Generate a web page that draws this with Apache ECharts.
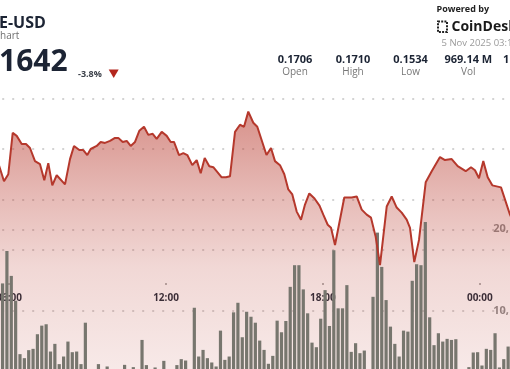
<!DOCTYPE html>
<html><head><meta charset="utf-8">
<script src="https://cdn.jsdelivr.net/npm/echarts@6/dist/echarts.min.js"></script>
<style>html,body{margin:0;padding:0;background:#fff;overflow:hidden}#c{width:510px;height:369px}</style>
</head><body><div id="c"></div>
<script>
// ---- data (hours of day; 24 = 00:00 next day) ----
const priceTimes = [5.576,5.805,5.969,6.138,6.291,6.482,6.646,6.799,6.990,7.182,
7.346,7.499,7.652,7.820,8.138,8.329,8.482,8.685,8.837,8.990,
9.120,9.350,9.503,9.667,9.859,10.050,10.176,10.344,10.497,10.650,
10.815,10.979,11.159,11.323,11.491,11.644,11.836,12.027,12.180,12.306,
12.497,12.662,12.815,13.006,13.174,13.327,13.480,13.656,13.809,14.130,
14.294,14.447,14.639,14.830,14.983,15.147,15.338,15.491,15.843,16.015,
16.168,16.359,16.524,16.677,16.830,16.998,17.163,17.315,17.480,17.679,
17.870,18.015,18.184,18.310,18.463,18.818,19.101,19.293,19.484,19.675,
19.839,20.019,20.184,20.440,20.631,20.822,21.013,21.204,21.331,21.495,
21.675,21.931,22.161,22.478,22.669,22.925,23.155,23.461,23.663,23.816,
23.969,24.134,24.302,24.478,24.811,25.155,25.346];
const prices = [0.1637,0.1618,0.1625,0.1666,0.1663,0.1655,0.1655,0.1651,0.1638,0.1635,
0.1619,0.1636,0.1614,0.1624,0.1615,0.1640,0.1653,0.1649,0.1649,0.1644,
0.1650,0.1653,0.1657,0.1656,0.1658,0.1661,0.1661,0.1657,0.1658,0.1653,
0.1657,0.1668,0.1672,0.1664,0.1665,0.1660,0.1667,0.1663,0.1657,0.1657,
0.1644,0.1646,0.1644,0.1634,0.1639,0.1626,0.1641,0.1633,0.1632,0.1622,
0.1622,0.1623,0.1667,0.1674,0.1672,0.1687,0.1676,0.1672,0.1644,0.1651,
0.1638,0.1634,0.1625,0.1610,0.1605,0.1588,0.1580,0.1595,0.1606,0.1601,
0.1594,0.1585,0.1575,0.1572,0.1555,0.1602,0.1602,0.1603,0.1590,0.1585,
0.1582,0.1563,0.1535,0.1593,0.1603,0.1592,0.1587,0.1580,0.1572,0.1538,
0.1560,0.1617,0.1628,0.1642,0.1639,0.1640,0.1633,0.1628,0.1632,0.1629,
0.1621,0.1638,0.1622,0.1614,0.1612,0.1585,0.1575];
const volStart = '05:45';      // centre of first 10-minute bar
const volStepMinutes = 10;
const volumesM = [13.38,17.35,14.30,11.26,4.72,4.23,5.21,5.37,7.16,8.21,
8.38,5.04,5.98,3.50,4.43,6.26,4.96,5.04,3.50,8.57,
2.6,2.1,3.50,2.4,3.21,2.0,2.3,1.8,3.41,2.0,
3.13,2.2,6.46,3.38,2.0,3.09,2.4,3.90,2.2,2.5,
3.38,4.11,3.94,2.5,10.40,4.43,5.24,4.23,3.70,3.21,
7.60,4.02,4.43,9.84,11.01,6.79,9.91,9.30,8.57,6.38,
5.24,3.54,4.51,8.82,7.40,8.78,12.96,15.61,15.61,12.65,
9.72,6.13,5.57,9.06,12.56,8.17,17.44,10.33,10.33,13.17,
5.00,6.06,4.84,5.16,2.3,11.74,19.6,15.40,11.34,8.09,
5.98,4.43,7.60,7.48,13.70,15.73,15.61,20.9,9.23,5.82,
7.28,6.26,6.59,6.46,6.55,2.0,1.8,3.13,4.92,4.96,
3.33,5.37,5.24,7.28,3.09,4.11,5.65];
const titleText = 'E-USD';
const subtitleText = 'hart';
const lastPrice = '1642';
const changeText = '-3.8%';
const statValues = ['0.1706','0.1710','0.1534','969.14 M'];
const statLabels = ['Open','High','Low','Vol'];
const dateText = '5 Nov 2025 03:1';

// ---- build ----
const [vh, vm] = volStart.split(':').map(Number);
const volTimes = volumesM.map((_, i) => vh + vm / 60 + i * volStepMinutes / 60);
const priceData = priceTimes.map((t, i) => [t, prices[i]]);
const volData = volTimes.map((t, i) => [t, volumesM[i]]);

const GL = -147.8, GR = -126.7;   // grid extends beyond the cropped view
const dotted = { color: 'rgba(150,150,150,0.55)', width: 1.5, type: [2, 8] };
const hourFmt = v => String(Math.round(v) % 24).padStart(2, '0') + ':00';

const chart = echarts.init(document.getElementById('c'), null, { renderer: 'canvas' });
const statX = [295, 353, 410.5, 468.3];
const graphics = [
  { type: 'text', x: -1, y: 23.5, style: { text: titleText, fill: '#1c2434', fontSize: 16, fontWeight: 'bold', fontFamily: 'Open Sans', textVerticalAlign: 'middle' } },
  { type: 'text', x: 0, y: 36.5, style: { text: subtitleText, fill: '#707070', fontSize: 10, fontFamily: 'Open Sans', textVerticalAlign: 'middle' } },
  { type: 'text', x: -1, y: 62, style: { text: lastPrice, fill: '#1c2434', fontSize: 30, fontWeight: 'bold', fontFamily: 'Open Sans', textVerticalAlign: 'middle' } },
  { type: 'text', x: 78, y: 74, style: { text: changeText, fill: '#3a3f48', fontSize: 9, fontWeight: 'bold', fontFamily: 'Open Sans', textVerticalAlign: 'middle' } },
  { type: 'polygon', shape: { points: [[108.7, 69.5], [118.7, 69.5], [113.7, 78]] }, style: { fill: '#b3261e' } },
  { type: 'text', x: 436.5, y: 9, style: { text: 'Powered by', fill: '#222', fontSize: 9, fontWeight: 'bold', fontFamily: 'Open Sans', textVerticalAlign: 'middle' } },
  { type: 'rect', shape: { x: 438, y: 21.5, width: 9, height: 10.5 }, style: { fill: 'none', stroke: '#222', lineWidth: 2, lineDash: [2, 1.2] } },
  { type: 'text', x: 451.5, y: 27, style: { text: 'CoinDesk', fill: '#1a1a1a', fontSize: 14, fontWeight: 'bold', fontFamily: 'Open Sans', textVerticalAlign: 'middle' } },
  { type: 'text', x: 441.5, y: 43.5, style: { text: dateText, fill: '#9a9a9a', fontSize: 9.5, fontFamily: 'Open Sans', textVerticalAlign: 'middle' } },
  { type: 'text', x: 503, y: 59.5, style: { text: '1', fill: '#1c2434', fontSize: 11, fontWeight: 'bold', fontFamily: 'Open Sans', textVerticalAlign: 'middle' } }
];
statValues.forEach((v, i) => {
  graphics.push({ type: 'text', x: statX[i], y: 59.5, style: { text: v, fill: '#1c2434', fontSize: 11, fontWeight: 'bold', fontFamily: 'Open Sans', textAlign: 'center', textVerticalAlign: 'middle' } });
  graphics.push({ type: 'text', x: statX[i], y: 72, style: { text: statLabels[i], fill: '#777', fontSize: 10, fontFamily: 'Open Sans', textAlign: 'center', textVerticalAlign: 'middle' } });
});

const hiddenX = (gi) => ({ type: 'value', gridIndex: gi, min: 0, max: 30, show: false });
chart.setOption({
  animation: false,
  backgroundColor: '#ffffff',
  graphic: graphics,
  grid: [
    { left: GL, right: GR, top: 98.5, bottom: -23.7, outerBoundsMode: 'none', containLabel: false },
    { left: GL, right: GR, top: 98.5, height: 151.5, outerBoundsMode: 'none', containLabel: false },
    { left: GL, right: GR, top: 188.5, bottom: -23.7, outerBoundsMode: 'none', containLabel: false }
  ],
  xAxis: [
    hiddenX(0),
    { type: 'value', gridIndex: 1, min: 0, max: 30, interval: 6, offset: 33,
      axisLine: { show: false },
      axisTick: { show: true, length: 2, lineStyle: { color: '#9a9a9a', width: 1.5 } },
      splitLine: { show: false },
      axisLabel: { formatter: hourFmt, margin: 10, fontSize: 10, fontWeight: 'bold', color: '#1f2937', fontFamily: 'Open Sans', showMinLabel: false, showMaxLabel: false } },
    hiddenX(2)
  ],
  yAxis: [
    { type: 'value', gridIndex: 0, min: 0.14087, max: 0.170, show: false },
    { type: 'value', gridIndex: 1, min: 0.155, max: 0.170, interval: 0.005,
      axisLine: { show: false }, axisTick: { show: false }, axisLabel: { show: false },
      splitLine: { show: true, lineStyle: dotted } },
    { type: 'value', gridIndex: 2, min: 0, max: 25, interval: 10, position: 'right', offset: -151.5,
      axisLine: { show: false }, axisTick: { show: false },
      axisLabel: { margin: 8, fontSize: 11, fontWeight: 'bold', color: '#8e8e8e', fontFamily: 'Open Sans',
        showMinLabel: false, showMaxLabel: false, formatter: v => v + ',' },
      splitLine: { show: true, showMinLine: false, showMaxLine: false, lineStyle: dotted } }
  ],
  series: [
    { type: 'line', xAxisIndex: 0, yAxisIndex: 0, data: priceData, symbol: 'none', z: 1,
      lineStyle: { width: 0, opacity: 0 },
      areaStyle: { origin: 'start', color: new echarts.graphic.LinearGradient(0, 0, 0, 1, [
        { offset: 0, color: 'rgba(185,60,48,0.80)' },
        { offset: 0.3, color: 'rgba(185,60,48,0.50)' },
        { offset: 0.55, color: 'rgba(185,60,48,0.29)' },
        { offset: 1, color: 'rgba(185,60,48,0.13)' }
      ]) } },
    { type: 'bar', xAxisIndex: 2, yAxisIndex: 2, data: volData, barWidth: 3.2, z: 2,
      itemStyle: { color: '#77766e' } },
    { type: 'line', xAxisIndex: 0, yAxisIndex: 0, data: priceData, symbol: 'none', z: 3,
      lineStyle: { color: '#b5382c', width: 2 } }
  ]
});
</script></body></html>
